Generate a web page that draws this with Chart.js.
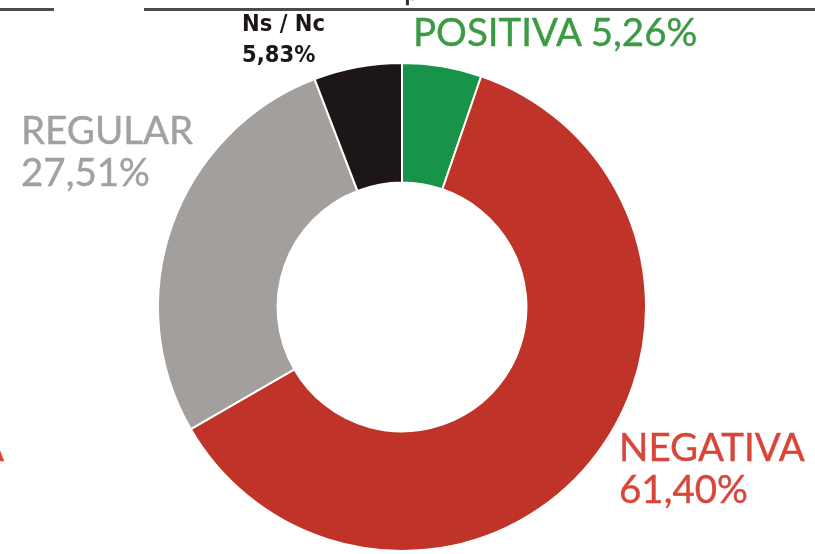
<!DOCTYPE html>
<html>
<head>
<meta charset="utf-8">
<script src="https://cdn.jsdelivr.net/npm/chart.js@4"></script>
<style>
  html, body { margin: 0; padding: 0; background: #fff; }
  #wrap { position: relative; width: 815px; height: 554px; overflow: hidden; font-family: Lato, "Open Sans", sans-serif; }
  #wrap canvas { position: absolute; left: 0; top: 0; }
  .rule { position: absolute; height: 3px; background: #4e4c4a; top: 8px; }
  .lbl { position: absolute; white-space: nowrap; font-size: 38.5px; line-height: 42px; -webkit-text-stroke: 0.4px currentColor; }
  .small { font-family: "Liberation Sans Narrow", "DejaVu Sans Condensed", sans-serif; font-weight: bold; font-size: 23.5px; line-height: 31px; color: #1c1716; -webkit-text-stroke: 0; }
</style>
</head>
<body>
<div id="wrap">
  <canvas id="donut" width="815" height="554"></canvas>
  <div class="rule" style="left:0; width:54px;"></div>
  <div class="rule" style="left:144px; width:671px;"></div>
  <div class="lbl" style="left:404px; top:-33px; color:#2b2725; font-size:30px;">p</div>
  <div class="lbl" id="lbl-pos" style="left:413px; top:10px; color:#3d9a44;"></div>
  <div class="lbl small" id="lbl-ns" style="left:242px; top:8px;"></div>
  <div class="lbl" id="lbl-reg" style="left:21px; top:108px; color:#a3a19f;"></div>
  <div class="lbl" id="lbl-neg" style="left:619px; top:425px; color:#d8463a;"></div>
  <div class="lbl" style="left:-22px; top:425px; color:#d8463a;">A</div>
</div>
<script>
// categories and shares (%), clockwise from 12 o'clock
const labels = ['POSITIVA', 'NEGATIVA', 'REGULAR', 'Ns / Nc'];
const values = [5.26, 61.40, 27.51, 5.83];
const colors = ['#17934a', '#bf3328', '#a29f9d', '#1c1716'];

function pct(v) {
    return v.toFixed(2).replace('.', ',') + '%';
}

document.getElementById('lbl-pos').textContent = labels[0] + ' ' + pct(values[0]);
document.getElementById('lbl-neg').innerHTML = labels[1] + '<br>' + pct(values[1]);
document.getElementById('lbl-reg').innerHTML = labels[2] + '<br>' + pct(values[2]);
document.getElementById('lbl-ns').innerHTML = labels[3] + '<br>' + pct(values[3]);

new Chart(document.getElementById('donut'), {
    type: 'doughnut',
    data: {
        labels: labels,
        datasets: [{
            data: values,
            backgroundColor: colors,
            borderColor: '#ffffff',
            borderWidth: 2
        }]
    },
    options: {
        responsive: false,
        animation: false,
        cutout: '51%',
        layout: { padding: { top: 62, bottom: 2, left: 157, right: 168 } },
        plugins: {
            legend: { display: false },
            tooltip: { enabled: false }
        }
    }
});
</script>
</body>
</html>
